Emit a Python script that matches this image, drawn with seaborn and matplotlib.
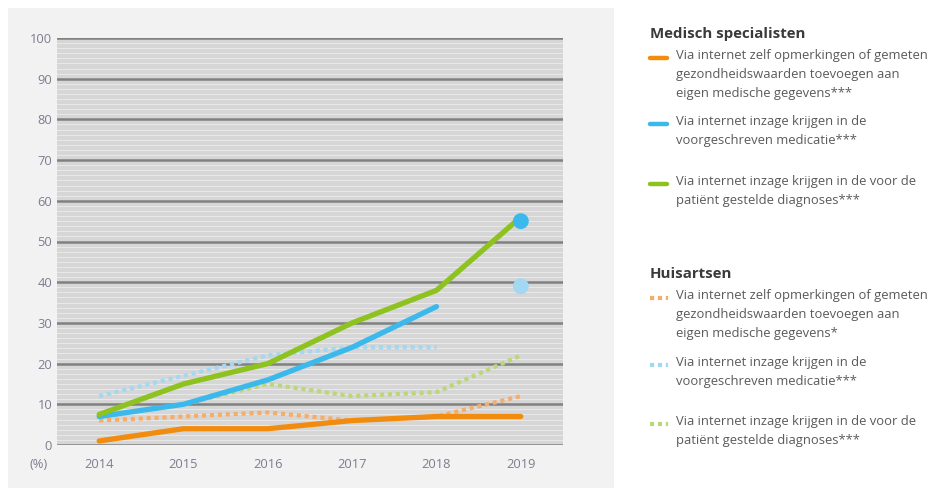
import numpy as np
import pandas as pd
import matplotlib.pyplot as plt
import seaborn as sns
from matplotlib.lines import Line2D
from matplotlib.patches import Rectangle

# Data (percentages)
years = [2014, 2015, 2016, 2017, 2018, 2019]
ms_opmerkingen = [1, 4, 4, 6, 7, 7]
ms_medicatie = [7, 10, 16, 24, 34, np.nan]
ms_diagnoses = [7.5, 15, 20, 30, 38, 56]
ha_opmerkingen = [6, 7, 8, 6, 7, 12]
ha_medicatie = [12, 17, 22, 24, 24, np.nan]
ha_diagnoses = [7, 10, 15, 12, 13, 22]
# 2019 single points for medication
dot_ms_medicatie_2019 = 55
dot_ha_medicatie_2019 = 39

series_names = ['ms_opm', 'ms_med', 'ms_diag', 'ha_opm', 'ha_med', 'ha_diag']
series_values = [ms_opmerkingen, ms_medicatie, ms_diagnoses,
                 ha_opmerkingen, ha_medicatie, ha_diagnoses]
colors = {'ms_opm': '#f28c0f', 'ms_med': '#3bb9ec', 'ms_diag': '#8dc21f',
          'ha_opm': '#f6ad6a', 'ha_med': '#a3d8f3', 'ha_diag': '#bad878'}

legend_text = {
    'ms_opm': 'Via internet zelf opmerkingen of gemeten\ngezondheidswaarden toevoegen aan\neigen medische gegevens***',
    'ms_med': 'Via internet inzage krijgen in de\nvoorgeschreven medicatie***',
    'ms_diag': 'Via internet inzage krijgen in de voor de\npatiënt gestelde diagnoses***',
    'ha_opm': 'Via internet zelf opmerkingen of gemeten\ngezondheidswaarden toevoegen aan\neigen medische gegevens*',
    'ha_med': 'Via internet inzage krijgen in de\nvoorgeschreven medicatie***',
    'ha_diag': 'Via internet inzage krijgen in de voor de\npatiënt gestelde diagnoses***',
}

rows = []
for name, vals in zip(series_names, series_values):
    for i, (y, v) in enumerate(zip(years, vals)):
        rows.append({'serie': name, 'idx': i, 'jaar': y, 'waarde': v})
df = pd.DataFrame(rows).dropna()

sns.set_style('white')
plt.rcParams['font.family'] = ['Open Sans', 'DejaVu Sans']

fig = plt.figure(figsize=(9.4, 4.92), dpi=100)
fig.patch.set_facecolor('white')
# light gray panel behind the chart
fig.add_artist(Rectangle((8 / 940, 4 / 492), 606 / 940, 480 / 492,
                         transform=fig.transFigure, facecolor='#f2f2f2',
                         edgecolor='none', zorder=-10))

ax = fig.add_axes([57 / 940, 47 / 492, 506 / 940, 407 / 492])
ax.set_facecolor('#d6d6d6')
# striped background
for yy in np.arange(0, 100, 1.25):
    ax.axhline(yy, color='#e8e8e8', lw=0.8, zorder=0)
for yy in range(0, 101, 10):
    ax.axhline(yy, color='#808080', lw=1.8, zorder=1)

dotted = (0, (1, 0.9))
for name in ['ha_opm', 'ha_med', 'ha_diag']:
    sns.lineplot(data=df[df.serie == name], x='idx', y='waarde', ax=ax,
                 color=colors[name], lw=3, linestyle=dotted,
                 dash_capstyle='butt', zorder=3)
for name in ['ms_opm', 'ms_med', 'ms_diag']:
    sns.lineplot(data=df[df.serie == name], x='idx', y='waarde', ax=ax,
                 color=colors[name], lw=3.8, solid_capstyle='round', zorder=4)

sns.scatterplot(x=[5], y=[dot_ms_medicatie_2019], ax=ax, color=colors['ms_med'],
                s=130, edgecolor='none', zorder=5)
sns.scatterplot(x=[5], y=[dot_ha_medicatie_2019], ax=ax, color=colors['ha_med'],
                s=130, edgecolor='none', zorder=5)

ax.set_xlim(-0.5, 5.5)
ax.set_ylim(0, 100)
ax.set_xticks(range(len(years)))
ax.set_xticklabels([str(y) for y in years])
ax.set_yticks(range(0, 101, 10))
ax.tick_params(axis='both', length=0, labelsize=9.3, labelcolor='#7d7d8f')
ax.tick_params(axis='x', pad=9)
ax.set_xlabel('')
ax.set_ylabel('')
for s in ax.spines.values():
    s.set_visible(False)
fig.text(39 / 940, 1 - 465 / 492, '(%)', ha='center', va='center',
         fontsize=9.3, color='#7d7d8f')

# legend, drawn by hand
def header(y, text):
    fig.text(650 / 940, 1 - y / 492, text, fontsize=10.8, fontweight='bold',
             color='#3a3a3a', va='center')

def entry(y, name, is_dotted):
    yf = 1 - y / 492
    if is_dotted:
        fig.add_artist(Line2D([650 / 940, 668 / 940], [yf, yf], color=colors[name],
                              lw=3, linestyle=dotted, dash_capstyle='butt',
                              transform=fig.transFigure))
    else:
        fig.add_artist(Line2D([650 / 940, 667 / 940], [yf, yf], color=colors[name],
                              lw=3.2, solid_capstyle='round', transform=fig.transFigure))
    fig.text(676 / 940, yf + 9 / 492, legend_text[name], fontsize=9.4,
             color='#5a5a5a', va='top', linespacing=1.6)

header(34, 'Medisch specialisten')
entry(58, 'ms_opm', False)
entry(124, 'ms_med', False)
entry(184, 'ms_diag', False)
header(274, 'Huisartsen')
entry(298, 'ha_opm', True)
entry(365, 'ha_med', True)
entry(424, 'ha_diag', True)

fig.savefig('out.png', dpi=100)
